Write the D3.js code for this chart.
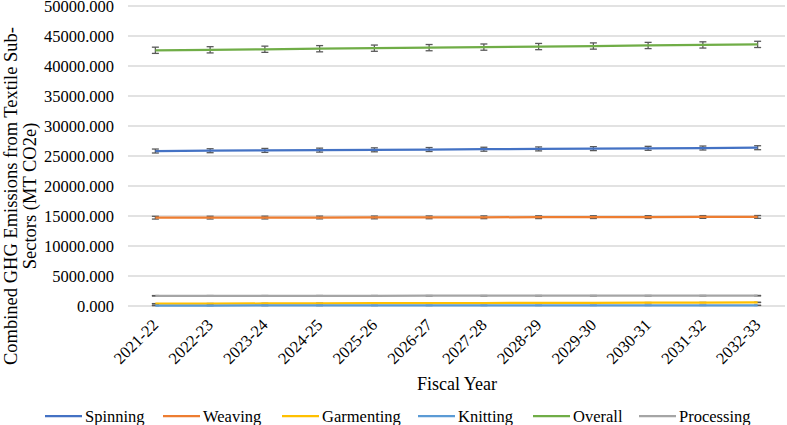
<!DOCTYPE html>
<html><head><meta charset="utf-8">
<script src="https://cdn.jsdelivr.net/npm/d3@7"></script>
<style>body{margin:0;background:#fff}svg{display:block}text{font-family:"Liberation Serif","Times New Roman",serif}</style>
</head><body>
<script>
const years = ["2021-22","2022-23","2023-24","2024-25","2025-26","2026-27","2027-28","2028-29","2029-30","2030-31","2031-32","2032-33"];
const spinning   = [25830,25880,25930,25980,26030,26080,26130,26180,26230,26280,26330,26380];
const weaving    = [14720,14730,14740,14750,14760,14775,14785,14800,14810,14820,14835,14850];
const garmenting = [380,400,420,440,460,480,500,520,540,560,580,600];
const knitting   = [80,82,84,86,88,90,92,94,96,98,100,102];
const overall    = [42620,42700,42790,42880,42970,43060,43150,43240,43330,43420,43510,43600];
const processing = [1700,1702,1704,1706,1708,1710,1712,1714,1716,1718,1719,1720];
const errSpinning = 330, errWeaving = 230, errGarmenting = 20, errKnitting = 10, errOverall = 520, errProcessing = 40;
const yTicks = [0,5000,10000,15000,20000,25000,30000,35000,40000,45000,50000];

const series = [
  {name:"Spinning", values:spinning, err:errSpinning, color:"#4472C4"},
  {name:"Weaving", values:weaving, err:errWeaving, color:"#ED7D31"},
  {name:"Garmenting", values:garmenting, err:errGarmenting, color:"#FFC000"},
  {name:"Knitting", values:knitting, err:errKnitting, color:"#5B9BD5"},
  {name:"Overall", values:overall, err:errOverall, color:"#70AD47"},
  {name:"Processing", values:processing, err:errProcessing, color:"#A5A5A5"}
];

const W = 787, H = 425;
const FONT = "'Liberation Serif','Times New Roman',serif";
const svg = d3.select("body").append("svg").attr("width", W).attr("height", H)
  .attr("font-family", FONT);

const pL = 128, pR = 785, pT = 6, pB = 306;
const x = d3.scaleBand().domain(years).range([pL, pR]);
const y = d3.scaleLinear().domain([0, 50000]).range([pB, pT]);
const cx = d => x(d) + x.bandwidth() / 2;

// gridlines
svg.append("g").selectAll("line").data(yTicks).join("line")
  .attr("x1", pL).attr("x2", pR)
  .attr("y1", d => y(d)).attr("y2", d => y(d))
  .attr("stroke", "#D9D9D9").attr("stroke-width", 1.3);

// y tick labels
svg.append("g").selectAll("text").data(yTicks).join("text")
  .attr("x", 114).attr("y", d => y(d)).attr("dy", "0.35em")
  .attr("text-anchor", "end").attr("font-size", 16.5).attr("font-family", FONT).attr("fill", "#000")
  .text(d => d3.format(".3f")(d));

// x tick labels
svg.append("g").selectAll("text").data(years).join("text")
  .attr("transform", d => `translate(${cx(d) + 4},${326}) rotate(-45)`)
  .attr("text-anchor", "end").attr("font-size", 16.5).attr("font-family", FONT).attr("fill", "#000")
  .text(d => d);

// error bars + lines (error bar beneath each series' line)
const line = d3.line().x((d, i) => cx(years[i])).y(d => y(d));
series.forEach(s => {
  const g = svg.append("g").attr("stroke", "#595959").attr("stroke-width", 1.3);
  s.values.forEach((v, i) => {
    const px = cx(years[i]);
    const y1 = y(v + s.err), y2 = y(v - s.err);
    g.append("line").attr("x1", px).attr("x2", px).attr("y1", y1).attr("y2", y2);
    g.append("line").attr("x1", px - 3.5).attr("x2", px + 3.5).attr("y1", y1).attr("y2", y1);
    g.append("line").attr("x1", px - 3.5).attr("x2", px + 3.5).attr("y1", y2).attr("y2", y2);
  });
  svg.append("path").datum(s.values).attr("d", line)
    .attr("fill", "none").attr("stroke", s.color).attr("stroke-width", 2.25);
});

// axis titles
svg.append("text").attr("x", 457).attr("y", 384).attr("dy", "0.35em")
  .attr("text-anchor", "middle").attr("font-size", 18).attr("font-family", FONT).text("Fiscal Year");

const yt = svg.append("text").attr("transform", "translate(0,196) rotate(-90)")
  .attr("text-anchor", "middle").attr("font-size", 18.5).attr("font-family", FONT);
yt.append("tspan").attr("x", 0).attr("y", 17).text("Combined GHG Emissions from Textile Sub-");
yt.append("tspan").attr("x", 0).attr("y", 36).text("Sectors (MT CO2e)");

// legend
const legX = [45, 163, 282, 418, 533, 639];
const lg = svg.append("g").selectAll("g").data(series).join("g")
  .attr("transform", (d, i) => `translate(${legX[i]},416)`);
lg.append("line").attr("x1", 0).attr("x2", 37).attr("y1", 0).attr("y2", 0)
  .attr("stroke", d => d.color).attr("stroke-width", 2.25);
lg.append("text").attr("x", 40).attr("dy", "0.35em").attr("font-size", 16.5).attr("font-family", FONT).text(d => d.name);
</script>
</body></html>
